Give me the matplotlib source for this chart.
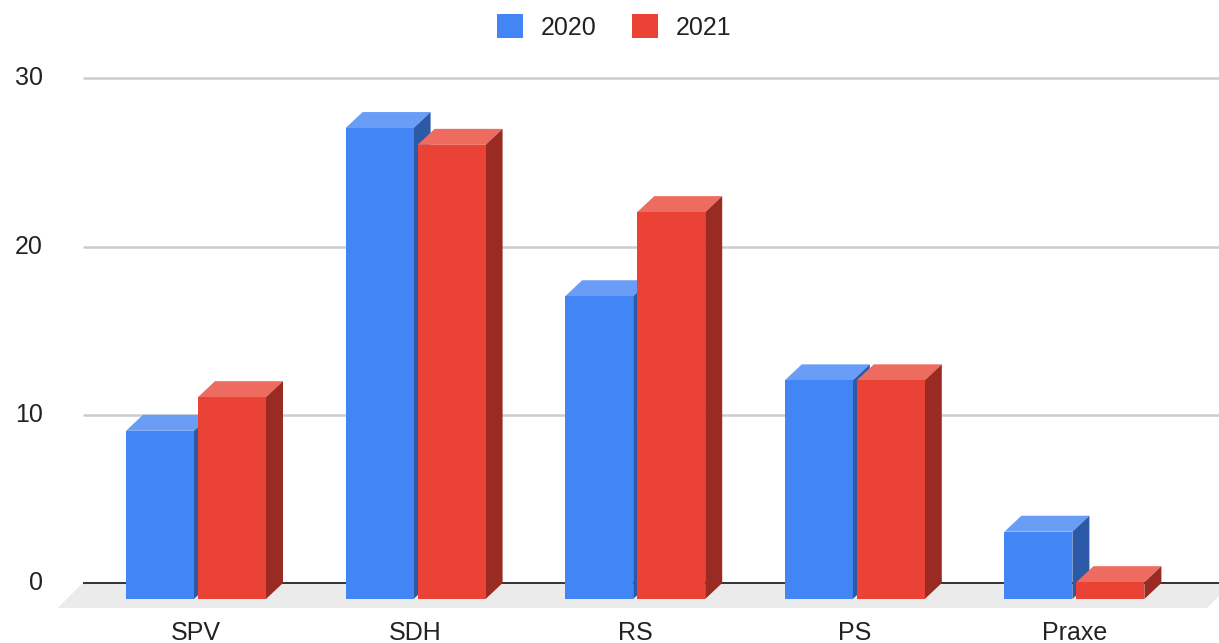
import matplotlib
matplotlib.use("Agg")
import matplotlib.pyplot as plt
from matplotlib.patches import Polygon, Patch

plt.rcParams['font.family'] = ['Liberation Sans', 'DejaVu Sans']

categories = ["SPV", "SDH", "RS", "PS", "Praxe"]
series_names = ["2020", "2021"]
values_2020 = [10, 28, 18, 13, 4]
values_2021 = [12, 27, 23, 13, 1]
y_ticks = [0, 10, 20, 30]

front_colors = ["#4285f4", "#ea4335"]
top_colors = ["#6a9ef6", "#ee6b5f"]
side_colors = ["#2d5aa8", "#992b22"]

W, H = 1219, 643
fig = plt.figure(figsize=(W / 100, H / 100), dpi=100)
ax = fig.add_axes([0, 0, 1, 1])

# pixel <-> data scale
x0_px, step_px = 196.0, 219.6       # first category centre, category spacing
y0_px, unit_px = 44.0, 16.82        # front-face zero (from bottom), px per unit
sx = 1.0 / step_px
sy = 1.0 / unit_px
ax.set_xlim(-x0_px * sx, (W - x0_px) * sx)
ax.set_ylim(-y0_px * sy, (H - y0_px) * sy)
ax.axis("off")

# 3D offsets
bar_dx, bar_dy = 17 * sx, 16 * sy
floor_d_x, floor_d_y = 25 * sx, 25 * sy
back_shift = bar_dy  # back plane offset

# floor
floor_front_y = -9 * sy
floor_back_y = back_shift
fl = -0.63
fr = (1207 - x0_px) * sx
ax.add_patch(Polygon([(fl, floor_front_y), (fr, floor_front_y),
                      (fr + floor_d_x, floor_back_y), (fl + floor_d_x, floor_back_y)],
                     closed=True, facecolor="#ebebeb", edgecolor="none", zorder=1))

# gridlines (back plane) and tick labels
grid_x0 = (83 - x0_px) * sx
grid_x1 = (W - x0_px) * sx
for t in y_ticks:
    yy = t + back_shift
    if t == 0:
        ax.plot([grid_x0, grid_x1], [yy, yy], color="#333333", lw=1.4, zorder=2,
                solid_capstyle="butt")
    else:
        ax.plot([grid_x0, grid_x1], [yy, yy], color="#cccccc", lw=1.8, zorder=0.5,
                solid_capstyle="butt")
    ax.text((43 - x0_px) * sx, yy, str(t), ha="right", va="center",
            fontsize=18, color="#222222")

# bars
bar_w = 68 * sx
offsets = [-70 * sx, 2 * sx]
series = [values_2020, values_2021]
for i, cat in enumerate(categories):
    for s, vals in enumerate(series):
        v = vals[i]
        xa = i + offsets[s]
        xb = xa + bar_w
        z = 3 + s
        ax.bar(xa, v, width=bar_w, bottom=0, align="edge", color=front_colors[s],
               edgecolor="none", zorder=z + 0.2)
        ax.add_patch(Polygon([(xa, v), (xb, v), (xb + bar_dx, v + bar_dy),
                              (xa + bar_dx, v + bar_dy)], closed=True,
                             facecolor=top_colors[s], edgecolor="none", zorder=z))
        ax.add_patch(Polygon([(xb, 0), (xb + bar_dx, bar_dy), (xb + bar_dx, v + bar_dy),
                              (xb, v)], closed=True,
                             facecolor=side_colors[s], edgecolor="none", zorder=z))
    ax.text(i, -40.5 * sy, cat, ha="center", va="baseline", fontsize=18,
            color="#222222")

handles = [Patch(facecolor=front_colors[k], edgecolor="none", label=series_names[k])
           for k in range(2)]
fig.legend(handles=handles, loc="center", bbox_to_anchor=(614 / W, 1 - 27 / H),
           ncol=2, frameon=False, fontsize=18, handlelength=1.05, handleheight=1.05,
           handletextpad=0.7, columnspacing=1.4, borderpad=0, labelcolor="#222222")

fig.savefig("out.png", dpi=100)
